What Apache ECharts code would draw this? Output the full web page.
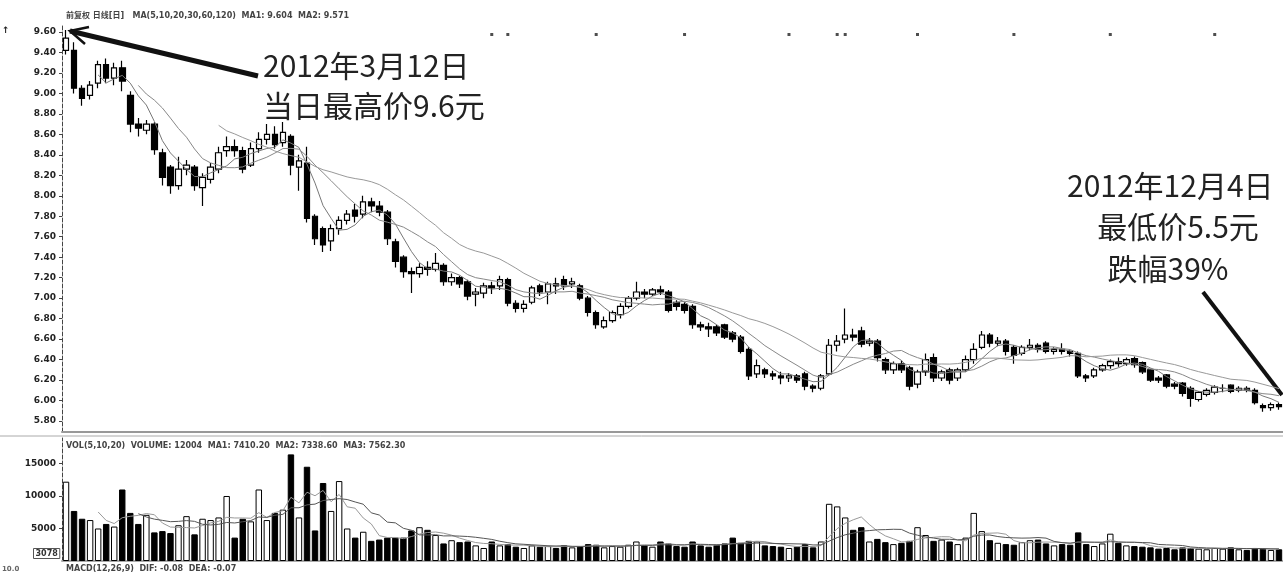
<!DOCTYPE html>
<html><head><meta charset="utf-8">
<script src="https://cdn.jsdelivr.net/npm/echarts@6/dist/echarts.min.js"></script>
<style>html,body{margin:0;padding:0;background:#fff}#c{width:1283px;height:576px}</style>
</head><body><div id="c"></div>
<script>
// ---- data ----
const opens = [9.42,9.42,9.05,8.98,9.10,9.28,9.15,9.25,8.98,8.70,8.64,8.70,8.42,8.28,8.10,8.26,8.28,8.08,8.16,8.26,
8.44,8.48,8.44,8.30,8.46,8.55,8.60,8.52,8.58,8.28,8.32,7.80,7.68,7.56,7.68,7.76,7.86,7.82,7.94,7.90,
7.84,7.55,7.40,7.26,7.24,7.30,7.28,7.32,7.16,7.20,7.16,7.04,7.05,7.12,7.12,7.18,6.95,6.90,6.96,7.12,
7.06,7.14,7.18,7.14,7.12,7.00,6.86,6.72,6.78,6.84,6.92,7.00,7.06,7.04,7.08,7.06,6.96,6.94,6.92,6.74,
6.72,6.72,6.74,6.66,6.62,6.50,6.26,6.30,6.26,6.24,6.22,6.24,6.26,6.14,6.12,6.26,6.54,6.60,6.64,6.68,
6.56,6.58,6.40,6.30,6.36,6.32,6.16,6.28,6.42,6.22,6.30,6.22,6.30,6.40,6.52,6.64,6.56,6.58,6.52,6.46,
6.52,6.54,6.56,6.48,6.50,6.48,6.46,6.24,6.24,6.30,6.34,6.38,6.36,6.41,6.37,6.30,6.22,6.25,6.16,6.17,
6.12,6.01,6.06,6.08,6.12,6.15,6.10,6.12,6.10,5.95,5.93,5.96];
const closes = [9.54,9.05,8.95,9.08,9.28,9.15,9.25,9.12,8.70,8.66,8.70,8.45,8.18,8.10,8.26,8.30,8.10,8.18,8.28,8.42,
8.48,8.44,8.26,8.46,8.55,8.60,8.50,8.62,8.30,8.34,7.78,7.58,7.52,7.68,7.76,7.82,7.80,7.94,7.90,7.84,
7.58,7.36,7.26,7.24,7.30,7.28,7.34,7.16,7.20,7.14,7.02,7.06,7.12,7.10,7.18,6.95,6.90,6.94,7.10,7.06,
7.14,7.12,7.12,7.16,7.00,6.86,6.74,6.78,6.86,6.92,7.00,7.06,7.04,7.08,7.06,6.88,6.92,6.88,6.74,6.72,
6.70,6.66,6.62,6.60,6.48,6.24,6.34,6.26,6.24,6.22,6.24,6.20,6.14,6.12,6.24,6.54,6.58,6.64,6.62,6.55,
6.58,6.42,6.30,6.36,6.30,6.14,6.28,6.40,6.22,6.28,6.20,6.30,6.40,6.50,6.64,6.56,6.58,6.48,6.44,6.52,
6.54,6.50,6.48,6.50,6.48,6.46,6.24,6.22,6.30,6.34,6.38,6.36,6.40,6.35,6.28,6.20,6.20,6.14,6.14,6.07,
6.02,6.08,6.10,6.13,6.12,6.09,6.12,6.10,5.98,5.93,5.96,5.94];
const lows = [9.38,9.00,8.88,8.94,9.05,9.10,9.08,9.02,8.62,8.58,8.60,8.40,8.10,8.02,8.06,8.20,8.05,7.90,8.12,8.22,
8.38,8.38,8.22,8.28,8.42,8.50,8.46,8.48,8.20,8.05,7.74,7.52,7.45,7.46,7.62,7.72,7.74,7.78,7.84,7.80,
7.52,7.30,7.20,7.05,7.20,7.22,7.26,7.12,7.12,7.10,6.98,6.92,7.00,7.04,7.08,6.92,6.86,6.86,6.94,7.02,
6.94,7.04,7.08,7.10,6.98,6.82,6.70,6.70,6.76,6.80,6.90,6.98,7.00,7.02,7.03,6.86,6.88,6.85,6.70,6.68,
6.62,6.63,6.60,6.57,6.46,6.20,6.22,6.22,6.20,6.16,6.18,6.17,6.10,6.08,6.10,6.24,6.48,6.56,6.58,6.52,
6.53,6.38,6.26,6.26,6.27,6.10,6.12,6.24,6.18,6.19,6.16,6.19,6.28,6.36,6.50,6.52,6.53,6.44,6.36,6.44,
6.49,6.47,6.46,6.45,6.45,6.43,6.22,6.18,6.22,6.28,6.31,6.33,6.34,6.32,6.26,6.18,6.17,6.12,6.11,6.04,
5.94,5.99,6.04,6.06,6.08,6.07,6.08,6.08,5.96,5.89,5.90,5.91];
const highs = [9.62,9.50,9.08,9.12,9.32,9.34,9.30,9.32,9.02,8.76,8.74,8.72,8.46,8.30,8.38,8.35,8.30,8.22,8.32,8.48,
8.58,8.55,8.48,8.52,8.62,8.70,8.68,8.72,8.60,8.40,8.48,7.82,7.70,7.72,7.80,7.86,7.92,8.00,7.98,7.95,
7.86,7.58,7.42,7.30,7.34,7.36,7.44,7.34,7.24,7.22,7.18,7.10,7.15,7.16,7.22,7.20,6.98,6.98,7.12,7.14,
7.16,7.20,7.22,7.20,7.14,7.02,6.88,6.82,6.88,6.95,7.02,7.16,7.09,7.10,7.12,7.08,6.98,6.96,6.94,6.77,
6.76,6.74,6.75,6.68,6.64,6.52,6.40,6.32,6.29,6.28,6.27,6.26,6.28,6.16,6.26,6.60,6.64,6.90,6.70,6.72,
6.61,6.60,6.42,6.38,6.39,6.34,6.30,6.46,6.46,6.30,6.32,6.32,6.44,6.56,6.68,6.66,6.62,6.60,6.54,6.54,
6.60,6.56,6.58,6.52,6.56,6.50,6.48,6.26,6.32,6.36,6.40,6.42,6.42,6.43,6.38,6.31,6.24,6.26,6.18,6.18,
6.14,6.09,6.12,6.15,6.16,6.16,6.14,6.14,6.12,5.97,5.98,5.98];
const volumes = [12200,7700,6500,6300,5000,5700,5300,11000,7400,5700,7100,4400,4600,4300,5500,6900,4100,6500,6300,6700,
10000,3600,6500,6100,11000,6300,7400,7900,16400,6700,14500,4700,12000,7700,12300,5000,3600,4500,3100,
3300,3600,3600,3600,4700,5200,4800,4000,2700,3200,2900,3000,2400,2000,3000,2400,
2600,2200,2000,2400,2200,2300,2000,2400,2100,2300,2600,2500,2100,2300,2200,2500,3000,2400,2200,3000,
2700,2300,2200,3000,2400,2200,2500,2700,3600,2800,3100,3000,2400,2300,2200,
2000,2200,2600,2100,3000,8800,8400,6700,4800,5200,3000,3400,2900,2600,2800,3100,5200,4000,3100,3300,
3000,2600,3600,7400,4600,3200,2800,2600,2500,2900,3200,3300,2700,2400,2600,2500,4400,2600,2300,2700,
4200,2800,2400,2300,2200,2100,1900,2000,1800,2100,2000,1900,1800,2000,1900,2100,1800,1700,2000,1900,1700,1800];
const priceTicks = [5.80,6.00,6.20,6.40,6.60,6.80,7.00,7.20,7.40,7.60,7.80,8.00,8.20,8.40,8.60,8.80,9.00,9.20,9.40,9.60];
const volumeTicks = [5000,10000,15000];
const markerIdx = [53,55,66,77,90,96,97,106,118,130,143];
const categories = opens.map((_, i) => 'D' + (i + 1));

// ---- build ----
const candleData = opens.map((o, i) => [o, closes[i], lows[i], highs[i]]);
function ma(arr, n) {
  return arr.map((_, i) => {
    if (i < n - 1) return '-';
    let s = 0; for (let k = i - n + 1; k <= i; k++) s += arr[k];
    return +(s / n).toFixed(3);
  });
}
const volData = volumes.map((v, i) => ({
  value: v,
  itemStyle: closes[i] >= opens[i]
    ? { color: '#fff', borderColor: '#000', borderWidth: 1 }
    : { color: '#000', borderColor: '#000', borderWidth: 1 }
}));

const chart = echarts.init(document.getElementById('c'), null, { renderer: 'canvas' });
const CJK = '"Noto Sans CJK SC", "Noto Sans", sans-serif';
const lblFont = { fontSize: 9, fontWeight: 'bold', color: '#222', fontFamily: 'DejaVu Sans' };

chart.setOption({
  animation: false,
  backgroundColor: '#fff',
  grid: [
    { left: 62, right: 0, top: 25, bottom: 144 },
    { left: 62, right: 0, top: 438, bottom: 15 }
  ],
  xAxis: [
    { type: 'category', gridIndex: 0, data: categories, boundaryGap: true,
      axisLine: { show: true, lineStyle: { color: '#999', width: 2 } },
      axisTick: { show: false }, axisLabel: { show: false }, splitLine: { show: false } },
    { type: 'category', gridIndex: 1, data: categories, boundaryGap: true,
      axisLine: { show: true, lineStyle: { color: '#aaa', width: 2 } },
      axisTick: { show: false }, axisLabel: { show: false }, splitLine: { show: false } }
  ],
  yAxis: [
    { type: 'value', gridIndex: 0, min: 5.6926, max: 9.668, scale: true,
      splitLine: { show: false },
      axisLine: { show: true, lineStyle: { color: '#444', width: 1, type: 'dashed' } },
      axisTick: { show: true, length: 3, customValues: priceTicks, lineStyle: { color: '#444' } },
      axisLabel: Object.assign({ customValues: priceTicks, margin: 6, formatter: v => v.toFixed(2) }, lblFont) },
    { type: 'value', gridIndex: 1, min: 0, max: 18923,
      splitLine: { show: false },
      axisLine: { show: true, lineStyle: { color: '#444', width: 1, type: 'dashed' } },
      axisTick: { show: true, length: 3, customValues: volumeTicks, lineStyle: { color: '#444' } },
      axisLabel: Object.assign({ customValues: volumeTicks, margin: 6, formatter: v => String(v) }, lblFont) }
  ],
  series: [
    { type: 'candlestick', name: 'K', xAxisIndex: 0, yAxisIndex: 0, data: candleData, barWidth: '75%',
      itemStyle: { color: '#fff', color0: '#000', borderColor: '#000', borderColor0: '#000', borderWidth: 1.2 } },
    { type: 'line', name: 'MA5', xAxisIndex: 0, yAxisIndex: 0, data: ma(closes, 5), symbol: 'none',
      lineStyle: { color: '#777', width: 1 } },
    { type: 'line', name: 'MA10', xAxisIndex: 0, yAxisIndex: 0, data: ma(closes, 10), symbol: 'none',
      lineStyle: { color: '#888', width: 1 } },
    { type: 'line', name: 'MA20', xAxisIndex: 0, yAxisIndex: 0, data: ma(closes, 20), symbol: 'none',
      lineStyle: { color: '#999', width: 1 } },
    { type: 'scatter', name: 'info', xAxisIndex: 0, yAxisIndex: 0, symbol: 'rect', symbolSize: [3, 3],
      data: markerIdx.map(i => [i, 9.575]), itemStyle: { color: '#222' }, silent: true },
    { type: 'bar', name: 'VOL', xAxisIndex: 1, yAxisIndex: 1, data: volData, barWidth: '80%' },
    { type: 'line', name: 'VMA5', xAxisIndex: 1, yAxisIndex: 1, data: ma(volumes, 5), symbol: 'none',
      lineStyle: { color: '#999', width: 1 } },
    { type: 'line', name: 'VMA10', xAxisIndex: 1, yAxisIndex: 1, data: ma(volumes, 10), symbol: 'none',
      lineStyle: { color: '#555', width: 1 } }
  ],
  graphic: [
    { type: 'line', shape: { x1: 0, y1: 436, x2: 1283, y2: 436 }, style: { stroke: '#aaa', lineWidth: 1 } },
    { type: 'text', left: 66, top: 12, style: { text: '前复权 日线[日]   MA(5,10,20,30,60,120)  MA1: 9.604  MA2: 9.571', font: 'bold 8px "DejaVu Sans", "Noto Sans CJK SC"', fill: '#444' } },
    { type: 'text', left: 66, top: 442, style: { text: 'VOL(5,10,20)  VOLUME: 12004  MA1: 7410.20  MA2: 7338.60  MA3: 7562.30', font: 'bold 8px "DejaVu Sans"', fill: '#444' } },
    { type: 'text', left: 66, top: 565, style: { text: 'MACD(12,26,9)  DIF: -0.08  DEA: -0.07', font: 'bold 8px "DejaVu Sans"', fill: '#444' } },
    { type: 'text', left: 2, top: 566, style: { text: '10.0', font: 'bold 7px "DejaVu Sans"', fill: '#666' } },
    { type: 'text', left: 33, top: 548, style: { text: '3078', font: 'bold 8px "DejaVu Sans"', fill: '#333', borderColor: '#555', borderWidth: 1, padding: [1, 2] } },
    { type: 'text', left: 2, top: 26, style: { text: '↑', font: 'bold 9px "DejaVu Sans"', fill: '#222' } },
    // annotations
    { type: 'line', shape: { x1: 258, y1: 76, x2: 70, y2: 31 }, style: { stroke: '#111', lineWidth: 5 } },
    { type: 'polyline', shape: { points: [[89, 27], [70, 31], [85, 44]] }, style: { stroke: '#111', lineWidth: 2.5, fill: null } },
    { type: 'line', shape: { x1: 1203, y1: 292, x2: 1282, y2: 395 }, style: { stroke: '#111', lineWidth: 4 } },
    { type: 'text', left: 263, top: 51, style: { text: '2012年3月12日', font: '30px ' + CJK, fill: '#222' } },
    { type: 'text', left: 263, top: 91, style: { text: '当日最高价9.6元', font: '30px ' + CJK, fill: '#222' } },
    { type: 'text', left: 1067, top: 171, style: { text: '2012年12月4日', font: '30px ' + CJK, fill: '#222' } },
    { type: 'text', x: 1178, top: 212, style: { text: '最低价5.5元', font: '30px ' + CJK, fill: '#222', textAlign: 'center' } },
    { type: 'text', x: 1168, top: 254, style: { text: '跌幅39%', font: '30px ' + CJK, fill: '#222', textAlign: 'center' } }
  ]
});
</script>
</body></html>
